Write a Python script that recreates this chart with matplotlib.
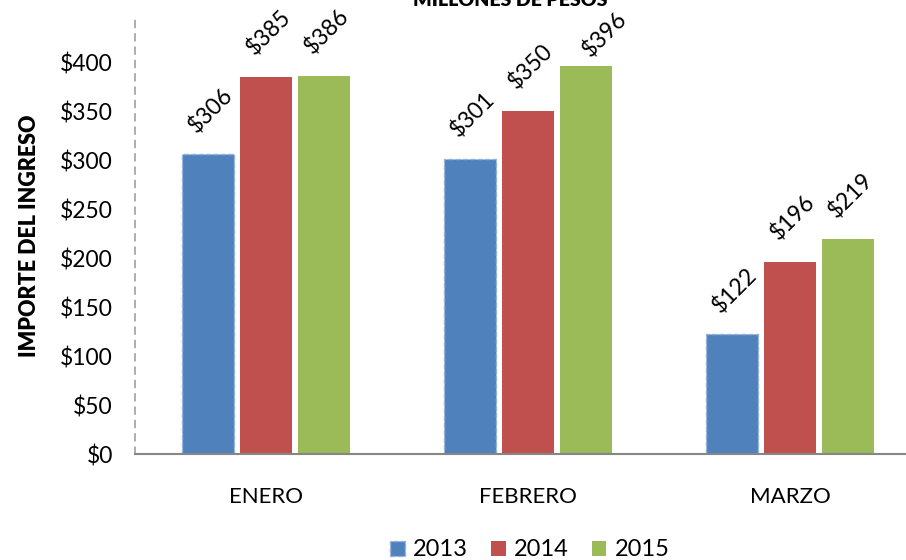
import numpy as np
import matplotlib.pyplot as plt

plt.rcParams['font.family'] = ['Lato', 'DejaVu Sans']

meses = ['ENERO', 'FEBRERO', 'MARZO']
anios = ['2013', '2014', '2015']
v2013 = [306, 301, 122]
v2014 = [385, 350, 196]
v2015 = [386, 396, 219]
colores = ['#4F81BD', '#C0504D', '#9BBB59']

fig = plt.figure(figsize=(9.06, 5.6), dpi=100)
ax = fig.add_axes([135 / 906, 106 / 560, 786 / 906, 436 / 560])

x = np.arange(len(meses))
ancho = 0.2
paso = 0.222
series = [v2013, v2014, v2015]
for i, (vals, col, lab) in enumerate(zip(series, colores, anios)):
    pos = x + (i - 1) * paso
    if i == 0:
        bars = ax.bar(pos, vals, ancho, color=col, label=lab,
                      edgecolor='#95B3D7', linestyle='--', linewidth=1.0)
    else:
        bars = ax.bar(pos, vals, ancho, color=col, label=lab, linewidth=0)
    for b, v in zip(bars, vals):
        # etiqueta encima de la barra, sin salirse por arriba
        ty = v + 45
        tx = b.get_x() + b.get_width() / 2 + 0.01
        if ty > 435:
            ty = 428
            tx += 0.06
        ax.text(tx, ty, f'${v}', ha='center', va='center',
                rotation=45, fontsize=16.5, weight='bold' if False else 'normal')

ax.set_xlim(-0.5, 2.5)
ax.set_ylim(0, 445)
ax.set_yticks(range(0, 401, 50))
ax.set_yticklabels([f'${t}' for t in range(0, 401, 50)], fontsize=16.5)
ax.set_xticks(x)
ax.set_xticklabels(meses, fontsize=16)
ax.tick_params(axis='both', length=0)
ax.tick_params(axis='y', pad=16)
ax.tick_params(axis='x', pad=24)

for s in ['top', 'right']:
    ax.spines[s].set_visible(False)
ax.spines['left'].set_color('#A0A0A0')
ax.spines['left'].set_linestyle((0, (4, 4)))
ax.spines['left'].set_linewidth(1.2)
ax.spines['bottom'].set_color('#868686')
ax.spines['bottom'].set_linewidth(1.5)

ax.set_ylabel('IMPORTE DEL INGRESO', fontsize=15.5, fontweight='heavy', labelpad=14)
fig.text(510 / 906, 1.0, 'MILLONES DE PESOS', ha='center', va='center',
         fontsize=14, fontweight='heavy')

ax.legend(loc='center', bbox_to_anchor=(530 / 906, 10 / 560),
          bbox_transform=fig.transFigure, ncol=3, frameon=False,
          fontsize=17, handlelength=0.6, handleheight=0.6,
          handletextpad=0.35, columnspacing=1.0)

fig.savefig('out.png', dpi=100)
